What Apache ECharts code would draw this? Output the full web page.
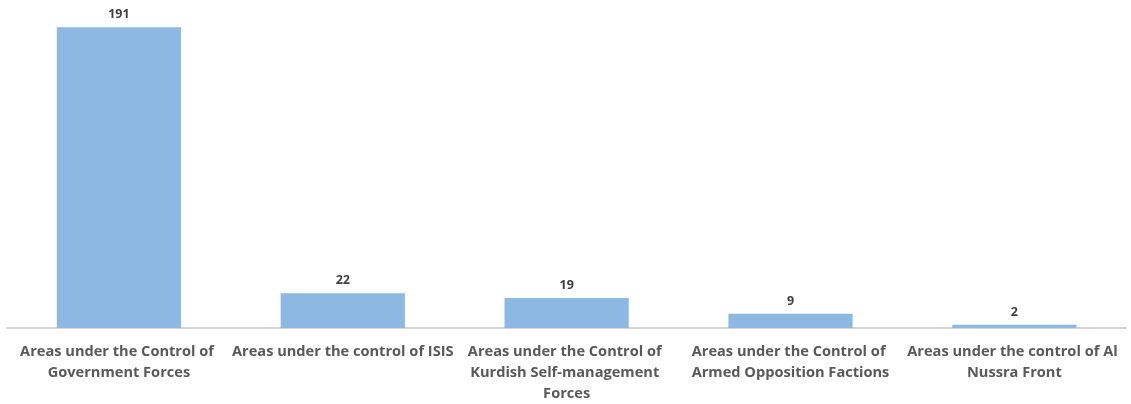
<!DOCTYPE html>
<html>
<head>
<meta charset="utf-8">
<script src="https://cdn.jsdelivr.net/npm/echarts@6/dist/echarts.min.js"></script>
<style>
html,body{margin:0;padding:0;background:#fff;}
#chart{width:1131px;height:404px;}
</style>
</head>
<body>
<div id="chart"></div>
<script>
const categories = [
  'Areas under the Control of Government Forces',
  'Areas under the control of ISIS',
  'Areas under the Control of Kurdish Self-management Forces',
  'Areas under the Control of Armed Opposition Factions',
  'Areas under the control of Al Nussra Front'
];
const values = [191, 22, 19, 9, 2];

const chart = echarts.init(document.getElementById('chart'));
chart.setOption({
  animation: false,
  grid: {left: 7, right: 1, top: 13, bottom: 74, containLabel: false},
  xAxis: {
    type: 'category',
    data: categories,
    axisLine: {lineStyle: {color: '#c8c8c8', width: 1.5}},
    axisTick: {show: false},
    axisLabel: {
      interval: 0,
      margin: 13,
      width: 228,
      overflow: 'break',
      lineHeight: 21,
      fontFamily: 'Open Sans',
      fontWeight: 'bold',
      fontSize: 14.6,
      color: '#595959'
    }
  },
  yAxis: {
    type: 'value',
    min: 0,
    max: 200,
    show: false,
    splitLine: {show: false}
  },
  series: [{
    type: 'bar',
    data: values,
    barWidth: '55.5%',
    itemStyle: {color: '#8db8e1'},
    label: {
      show: true,
      position: 'top',
      distance: 6,
      fontFamily: 'Open Sans',
      fontWeight: 'bold',
      fontSize: 12.5,
      color: '#404040'
    }
  }]
});
</script>
</body>
</html>
